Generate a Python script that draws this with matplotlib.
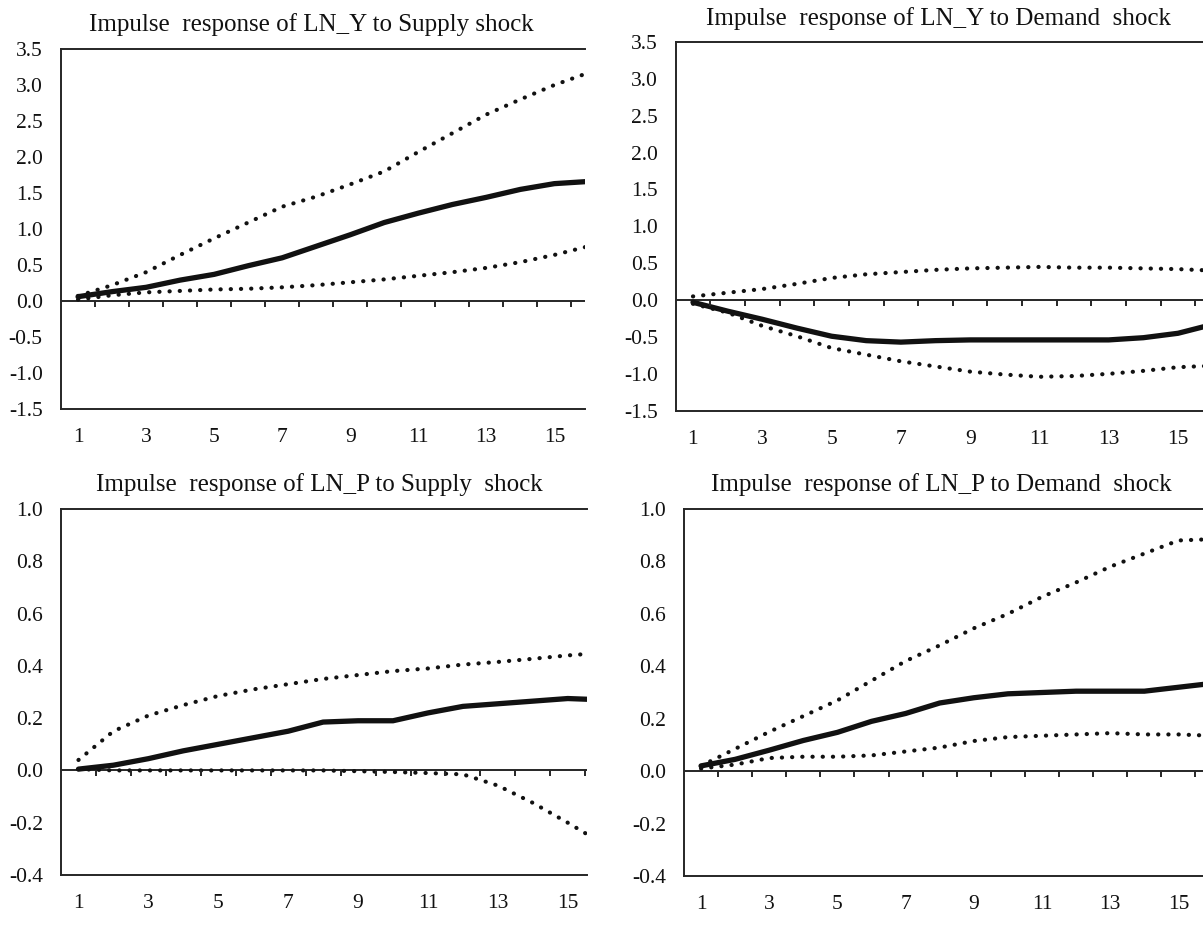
import numpy as np
import matplotlib
matplotlib.use("Agg")
import matplotlib.pyplot as plt
from matplotlib.markers import TICKDOWN

# ---------------- data ----------------
periods = list(range(1, 17))

# LN_Y to Supply shock
y_sup_resp = [0.06, 0.13, 0.19, 0.29, 0.37, 0.49, 0.60, 0.76, 0.92, 1.09, 1.22, 1.34, 1.44, 1.55, 1.63, 1.66]
y_sup_up = [0.07, 0.22, 0.40, 0.64, 0.87, 1.09, 1.31, 1.45, 1.62, 1.80, 2.07, 2.33, 2.59, 2.80, 3.00, 3.17]
y_sup_lo = [0.02, 0.08, 0.12, 0.14, 0.16, 0.17, 0.19, 0.22, 0.26, 0.30, 0.35, 0.40, 0.46, 0.54, 0.64, 0.76]

# LN_Y to Demand shock
y_dem_resp = [-0.03, -0.15, -0.26, -0.38, -0.49, -0.55, -0.57, -0.55, -0.54, -0.54, -0.54, -0.54, -0.54, -0.51, -0.45, -0.33]
y_dem_up = [0.05, 0.10, 0.15, 0.22, 0.30, 0.35, 0.38, 0.41, 0.43, 0.44, 0.45, 0.44, 0.44, 0.43, 0.42, 0.40]
y_dem_lo = [-0.05, -0.17, -0.35, -0.49, -0.65, -0.74, -0.83, -0.90, -0.97, -1.01, -1.04, -1.03, -1.00, -0.96, -0.91, -0.89]

# LN_P to Supply shock
p_sup_resp = [0.005, 0.02, 0.045, 0.075, 0.10, 0.125, 0.15, 0.185, 0.19, 0.19, 0.22, 0.245, 0.255, 0.265, 0.275, 0.27]
p_sup_up = [0.04, 0.15, 0.21, 0.25, 0.285, 0.31, 0.33, 0.35, 0.365, 0.38, 0.39, 0.405, 0.415, 0.427, 0.44, 0.45]
p_sup_lo = [0.005, 0.0, 0.0, 0.0, 0.0, 0.0, 0.0, 0.0, -0.003, -0.006, -0.01, -0.015, -0.058, -0.124, -0.20, -0.28]

# LN_P to Demand shock
p_dem_resp = [0.02, 0.045, 0.08, 0.117, 0.148, 0.19, 0.22, 0.26, 0.28, 0.295, 0.30, 0.305, 0.305, 0.305, 0.32, 0.335]
p_dem_up = [0.02, 0.085, 0.15, 0.21, 0.27, 0.345, 0.42, 0.48, 0.545, 0.60, 0.665, 0.72, 0.78, 0.83, 0.88, 0.885]
p_dem_lo = [0.01, 0.025, 0.05, 0.055, 0.055, 0.06, 0.075, 0.09, 0.115, 0.13, 0.135, 0.14, 0.145, 0.14, 0.14, 0.135]

titles = [
    "Impulse  response of LN_Y to Supply shock",
    "Impulse  response of LN_Y to Demand  shock",
    "Impulse  response of LN_P to Supply  shock",
    "Impulse  response of LN_P to Demand  shock",
]

ytick_y = [3.5, 3.0, 2.5, 2.0, 1.5, 1.0, 0.5, 0.0, -0.5, -1.0, -1.5]
ytick_y_labels = ["3.5", "3.0", "2.5", "2.0", "1.5", "1.0", "0.5", "0.0", "-0.5", "-1.0", "-1.5"]
ytick_p = [1.0, 0.8, 0.6, 0.4, 0.2, 0.0, -0.2, -0.4]
ytick_p_labels = ["1.0", "0.8", "0.6", "0.4", "0.2", "0.0", "-0.2", "-0.4"]
xtick_vals = [1, 3, 5, 7, 9, 11, 13, 15]
xtick_labels = ["1", "3", "5", "7", "9", "11", "13", "15"]

# ---------------- style ----------------
W, H = 1203, 925
plt.rcParams["font.family"] = ["Liberation Serif", "DejaVu Serif"]
INK = "#111111"
BOX = "#262626"

fig = plt.figure(figsize=(W / 100, H / 100), dpi=100)


def px_rect(left, top, right, bottom):
    return [left / W, 1 - bottom / H, (right - left) / W, (bottom - top) / H]


panels = [
    dict(rect=px_rect(60.7, 49, 585, 409), xlim=(0.49, 15.9), ylim=(-1.5, 3.5),
         yt=ytick_y, ytl=ytick_y_labels, data=(y_sup_resp, y_sup_up, y_sup_lo),
         title=titles[0], tpos=(311, 25)),
    dict(rect=px_rect(676, 42, 1203, 410.7), xlim=(0.51, 15.72), ylim=(-1.5, 3.5),
         yt=ytick_y, ytl=ytick_y_labels, data=(y_dem_resp, y_dem_up, y_dem_lo),
         title=titles[1], tpos=(938, 19)),
    dict(rect=px_rect(61, 509, 587, 875), xlim=(0.5, 15.55), ylim=(-0.4, 1.0),
         yt=ytick_p, ytl=ytick_p_labels, data=(p_sup_resp, p_sup_up, p_sup_lo),
         title=titles[2], tpos=(319, 485)),
    dict(rect=px_rect(684, 509, 1203, 876), xlim=(0.5, 15.72), ylim=(-0.4, 1.0),
         yt=ytick_p, ytl=ytick_p_labels, data=(p_dem_resp, p_dem_up, p_dem_lo),
         title=titles[3], tpos=(941, 485)),
]

between = [p + 0.5 for p in periods[:-1]]

for pnl in panels:
    ax = fig.add_axes(pnl["rect"])
    resp, up, lo = pnl["data"]
    dot = dict(color=INK, lw=3.0, linestyle=(0, (0.05, 2.4)),
               dash_capstyle="round", solid_capstyle="round")
    ax.plot(periods, up, **dot)
    ax.plot(periods, lo, **dot)
    ax.plot(periods, resp, color=INK, lw=3.8, solid_capstyle="round",
            solid_joinstyle="round")
    # zero line with period ticks
    ax.axhline(0, color=BOX, lw=1.4, zorder=1)
    ax.plot(between, [0] * len(between), ls="none", marker=TICKDOWN,
            ms=4.5, mew=1.4, color=BOX)
    ax.set_xlim(*pnl["xlim"])
    ax.set_ylim(*pnl["ylim"])
    ax.set_yticks(pnl["yt"])
    ax.set_yticklabels(pnl["ytl"])
    ax.set_xticks(xtick_vals)
    ax.set_xticklabels(xtick_labels)
    ax.tick_params(axis="y", length=0, pad=13, labelsize=15.5, labelcolor=INK)
    ax.tick_params(axis="x", length=0, pad=14, labelsize=15.5, labelcolor=INK)
    for s in ("left", "top", "bottom"):
        ax.spines[s].set_linewidth(1.4)
        ax.spines[s].set_color(BOX)
    ax.spines["right"].set_visible(False)
    fig.text(pnl["tpos"][0] / W, 1 - pnl["tpos"][1] / H, pnl["title"],
             ha="center", va="center", fontsize=18, color=INK)

fig.savefig("out.png", dpi=100)
